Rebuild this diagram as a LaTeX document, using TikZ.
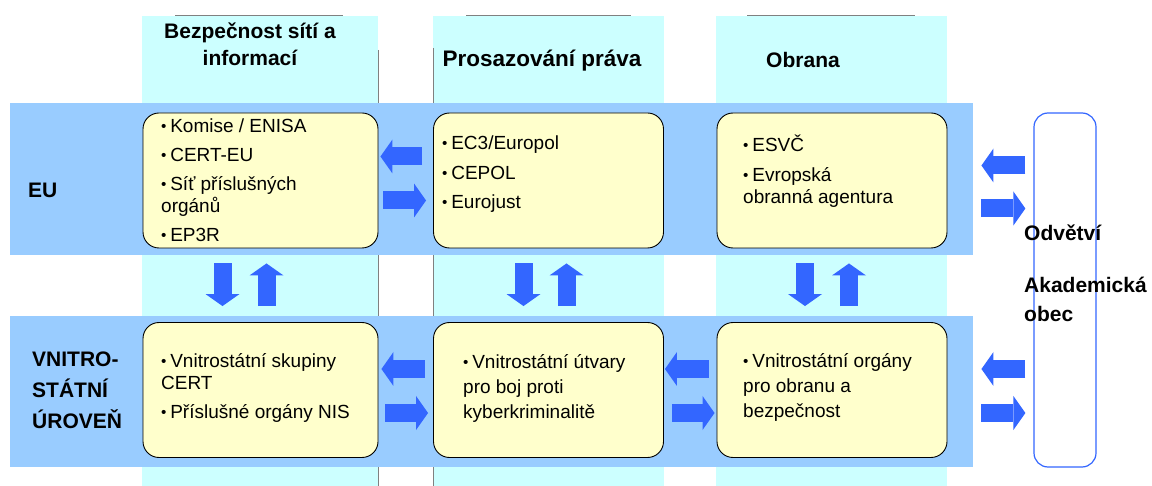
\documentclass[tikz,border=0pt]{standalone}
\usepackage{fontspec}
\setmainfont{Liberation Sans}
\usepackage{graphicx}
\usetikzlibrary{arrows.meta,calc}
\definecolor{colcyan}{HTML}{CCFFFF}
\definecolor{rowblue}{HTML}{99CCFF}
\definecolor{boxyellow}{HTML}{FFFFCC}
\definecolor{arrowblue}{HTML}{3366FF}
\definecolor{linegray}{HTML}{808080}
\newcommand{\bul}{\raisebox{0.1ex}{\scalebox{0.8}{•}}\hspace{0.2em}}
\begin{document}
\begin{tikzpicture}[x=1pt,y=-1pt]
  \tikzset{ box/.style={draw=black,fill=boxyellow,line width=0.9pt,rounded corners=16pt,minimum width=230pt,minimum height=135pt,inner sep=0pt},
    txt/.style={inner sep=0pt,anchor=west,align=left,font=\fontsize{19}{22}\selectfont},
    head/.style={inner sep=0pt,align=center,font=\fontsize{21}{27}\selectfont\bfseries},
    fat/.style={draw=arrowblue,line width=18pt,-{Triangle[width=34pt,length=12pt,line width=0pt]}},
  }
  \useasboundingbox (0,0) rectangle (1152,486);

  % the three columns
  \fill[colcyan] (142,16) rectangle (378,486);
  \fill[colcyan] (433,16) rectangle (664,486);
  \fill[colcyan] (716,16) rectangle (947,486);
  \draw[linegray] (175,15.5) -- (343,15.5);
  \draw[linegray] (466,15.5) -- (631,15.5);
  \draw[linegray] (747,15.5) -- (915,15.5);
  \draw[linegray] (378,50) -- (378,486);
  \draw[linegray] (433,48) -- (433,486);

  % the two levels
  \fill[rowblue] (10,103) rectangle (973,255);
  \fill[rowblue] (10,316) rectangle (973,467);

  \node[head] (h1) at (250,44) {Bezpečnost sítí a\\informací};
  \node[head,font=\fontsize{22.5}{27}\selectfont\bfseries] (h2) at (542,61) {Prosazování práva};
  \node[head] (h3) at (803,60) {Obrana};

  \node[head,anchor=west,align=left] (reu) at (28,190) {EU};
  \node[head,anchor=west,align=left,font=\fontsize{21}{31}\selectfont\bfseries] (rnat) at (32,390.5) {VNITRO-\\STÁTNÍ\\ÚROVEŇ};

  \node[box,minimum width=235pt] (eu1) at (260.5,180.5) {};
  \node[box] (eu2) at (548.5,180.5) {};
  \node[box] (eu3) at (832,180.5) {};
  \node[box,minimum width=235pt] (n1) at (260.5,390) {};
  \node[box] (n2) at (548.5,390) {};
  \node[box] (n3) at (832,390) {};

  \node[txt] (eu1t) at (161,180) {\bul Komise / ENISA\\[7pt]\bul CERT-EU\\[7pt]\bul Síť příslušných\\orgánů\\[7pt]\bul EP3R};
  \node[txt] (eu2t) at (442,174.5) {\bul EC3/Europol\\[7.5pt]\bul CEPOL\\[7.5pt]\bul Eurojust};
  \node[txt] (eu3t) at (743,171) {\bul ESVČ\\[8pt]\bul Evropská\\obranná agentura};
  \node[txt] (n1t) at (161,387.5) {\bul Vnitrostátní skupiny\\CERT\\[7pt]\bul Příslušné orgány NIS};
  \node[txt,font=\fontsize{19}{25}\selectfont] (n2t) at (463,388) {\bul Vnitrostátní útvary\\pro boj proti\\kyberkriminalitě};
  \node[txt,font=\fontsize{19}{25}\selectfont] (n3t) at (743,387.5) {\bul Vnitrostátní orgány\\pro obranu a\\bezpečnost};

  \node[draw=arrowblue,line width=1.2pt,rounded corners=14pt,minimum width=62pt,minimum height=354pt] (odv) at (1065,290) {};
  \node[head,anchor=west,align=left,font=\fontsize{21}{29}\selectfont\bfseries] (odvt) at (1024,273.5) {Odvětví\\[23pt]Akademická\\obec};

  % arrows on the EU level
  \draw[fat] ($(eu2.west)+(-11,-24)$) -- ($(eu1.east)+(2,-24)$);
  \draw[fat] ($(eu1.east)+(5,20)$) -- ($(eu2.west)+(-7,20)$);
  \draw[fat] ($(odv.west|-eu3.east)+(-8,-15)$) -- ($(eu3.east)+(34,-15)$);
  \draw[fat] ($(eu3.east)+(34,28)$) -- ($(odv.west|-eu3.east)+(-8,28)$);

  % arrows on the national level
  \draw[fat] ($(n2.west)+(-8,-21)$) -- ($(n1.east)+(3,-21)$);
  \draw[fat] ($(n1.east)+(7,23)$) -- ($(n2.west)+(-5,23)$);
  \draw[fat] ($(n3.west)+(-8,-21)$) -- ($(n2.east)+(1,-21)$);
  \draw[fat] ($(n2.east)+(8,23)$) -- ($(n3.west)+(-2,23)$);
  \draw[fat] ($(odv.west|-n3.east)+(-8,-21)$) -- ($(n3.east)+(34,-21)$);
  \draw[fat] ($(n3.east)+(34,23)$) -- ($(odv.west|-n3.east)+(-8,23)$);

  % arrows between the levels
  \draw[fat] ($(eu1.south)+(-38,15)$) -- ($(n1.north)+(-38,-16)$);
  \draw[fat] ($(n1.north)+(6,-16)$) -- ($(eu1.south)+(6,15)$);
  \draw[fat] ($(eu2.south)+(-25,15)$) -- ($(n2.north)+(-25,-16)$);
  \draw[fat] ($(n2.north)+(18,-16)$) -- ($(eu2.south)+(18,15)$);
  \draw[fat] ($(eu3.south)+(-27,15)$) -- ($(n3.north)+(-27,-16)$);
  \draw[fat] ($(n3.north)+(17,-16)$) -- ($(eu3.south)+(17,15)$);
\end{tikzpicture}
\end{document}
